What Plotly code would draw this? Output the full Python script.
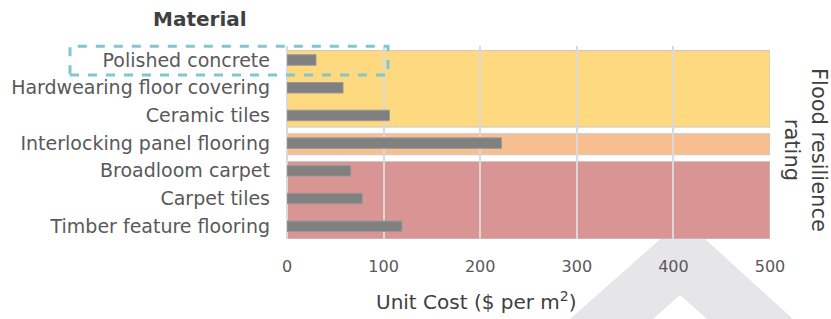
import plotly.graph_objects as go

# ---- data ----
materials = ["Polished concrete", "Hardwearing floor covering", "Ceramic tiles",
             "Interlocking panel flooring", "Broadloom carpet", "Carpet tiles",
             "Timber feature flooring"]
unit_costs = [30, 58, 106, 222, 66, 78, 119]
ratings = ["High", "High", "High", "Medium", "Low", "Low", "Low"]
x_ticks = [0, 100, 200, 300, 400, 500]
highlighted = "Polished concrete"

rating_colors = {"High": "#FED980", "Medium": "#F7BF8F", "Low": "#D99594"}

FONT = "DejaVu Sans"
Y_RANGE = [6.46, -0.505]
X_RANGE = [0, 500]
PL, PR, PT, PB = 287, 770, 46, 239   # plot area in page pixels
PW, PH = PR - PL, PB - PT


def px_x(px):
    return (px - PL) / PW


def px_y(py):
    return (PB - py) / PH


fig = go.Figure()
fig.add_trace(go.Bar(
    x=unit_costs, y=materials, orientation="h",
    marker=dict(color="#808080", line=dict(color="#9A9A9A", width=1)),
    width=0.38, hoverinfo="x+y",
))

shapes = []
# rating bands from consecutive groups
groups = []
for i, r in enumerate(ratings):
    if groups and groups[-1][0] == r:
        groups[-1][2] = i
    else:
        groups.append([r, i, i])
for r, a, b in groups:
    y1 = Y_RANGE[0] if b == len(ratings) - 1 else b + 0.42
    shapes.append(dict(type="rect", xref="x", yref="y", x0=X_RANGE[0], x1=X_RANGE[1],
                       y0=a - 0.34, y1=y1, layer="below",
                       fillcolor=rating_colors[r], line=dict(color="#C8C8C8", width=1)))

# highlight box around the chosen material (paper coordinates)
hi = materials.index(highlighted)


def ypaper(v):
    return (Y_RANGE[0] - v) / (Y_RANGE[0] - Y_RANGE[1])


shapes.append(dict(type="rect", xref="paper", yref="paper",
                   x0=px_x(70), x1=px_x(388), y0=ypaper(hi + 0.54), y1=ypaper(hi - 0.5),
                   line=dict(color="#7FC8CC", width=3, dash="dash"), layer="above"))

# decorative grey chevron watermark behind the plot
chev = [(570, 319), (683, 219), (793, 319), (707, 319), (680, 295), (653, 319)]
path = "M " + " L ".join(f"{px_x(x)},{px_y(y)}" for x, y in chev) + " Z"
shapes.append(dict(type="path", xref="paper", yref="paper", path=path,
                   fillcolor="#E6E6E8", line=dict(width=0), layer="below"))

fig.update_layout(
    width=831, height=319,
    margin=dict(l=PL, r=831 - PR, t=PT, b=319 - PB, autoexpand=False),
    paper_bgcolor="white", plot_bgcolor="white",
    showlegend=False,
    font=dict(family=FONT, color="#595959"),
    shapes=shapes,
    annotations=[
        dict(text="<b>Material</b>", xref="paper", yref="paper", x=px_x(200), y=px_y(19),
             showarrow=False, font=dict(size=20, color="#404040", family=FONT),
             xanchor="center", yanchor="middle"),
        dict(text="Unit Cost ($ per m<sup>2</sup>)", xref="paper", yref="paper",
             x=px_x(476), y=px_y(301), showarrow=False,
             font=dict(size=20, color="#404040", family=FONT), xanchor="center", yanchor="middle"),
        dict(text="Flood resilience<br>rating", xref="paper", yref="paper",
             x=px_x(806), y=px_y(150), showarrow=False, textangle=90,
             font=dict(size=21, color="#404040", family=FONT), xanchor="center", yanchor="middle"),
    ],
)
fig.update_xaxes(range=X_RANGE, tickvals=x_ticks, showgrid=True, gridcolor="#D9D9D9", gridwidth=2,
                 zeroline=True, zerolinecolor="#D9D9D9", zerolinewidth=2, showline=False,
                 tickfont=dict(size=16, color="#595959"), ticks="", ticklabelstandoff=16)
fig.update_yaxes(range=Y_RANGE, categoryorder="array", categoryarray=materials,
                 showgrid=False, zeroline=False, showline=False, ticks="",
                 tickfont=dict(size=19, color="#595959"), ticklabelstandoff=16)

fig.write_html("out.html", config={"displayModeBar": False},
               post_script="document.body.style.margin='0';")
